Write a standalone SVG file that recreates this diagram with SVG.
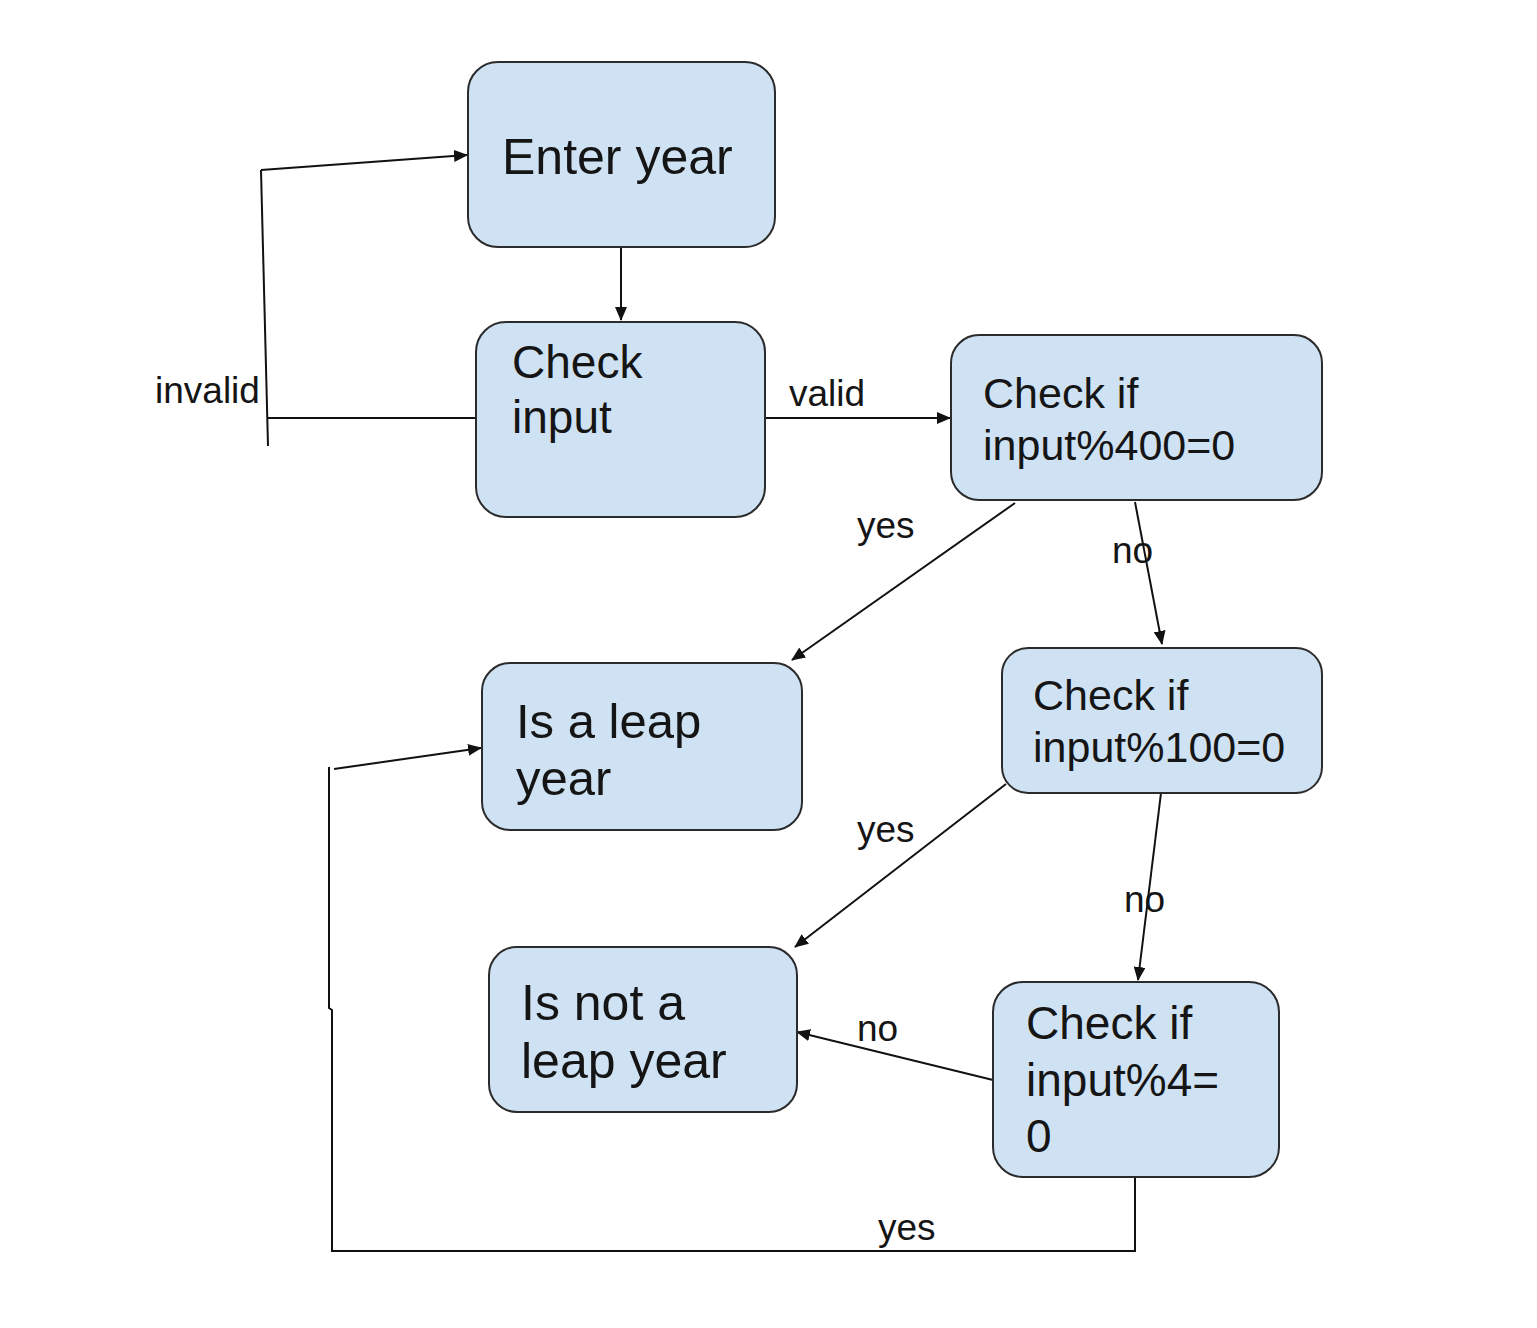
<svg xmlns="http://www.w3.org/2000/svg" width="1537" height="1328" viewBox="0 0 1537 1328">
<style>
.node{fill:#cfe2f3;stroke:#2b2b2b;stroke-width:2}
.nt{font-family:"Liberation Sans",Arial,sans-serif;fill:#151515;}
.lb{font-family:"Liberation Sans",Arial,sans-serif;fill:#151515;font-size:37px}
.c{fill:none;stroke:#111;stroke-width:2}
.a{fill:none;stroke:#111;stroke-width:2;marker-end:url(#ah)}
</style>
<defs>
<marker id="ah" markerUnits="userSpaceOnUse" markerWidth="14" markerHeight="12" viewBox="0 0 14 12" refX="13" refY="6" orient="auto">
<path d="M0,0 L14,6 L0,12 Z" fill="#111"/>
</marker>
</defs>
<rect width="1537" height="1328" fill="#fff"/>
<g id="connectors">
<line class="a" x1="621" y1="247" x2="621" y2="320"/>
<polyline class="c" points="476,418 268,418"/>
<polyline class="c" points="268,446 261,170"/>
<line class="a" x1="261" y1="170" x2="467" y2="155"/>
<line class="a" x1="765" y1="418" x2="950" y2="418"/>
<line class="a" x1="1015" y1="503" x2="792" y2="660"/>
<line class="a" x1="1135" y1="502" x2="1162" y2="644"/>
<line class="a" x1="1006" y1="784" x2="795" y2="947"/>
<line class="a" x1="1161" y1="793" x2="1138" y2="980"/>
<line class="a" x1="993" y1="1080" x2="797" y2="1032"/>
<polyline class="c" points="1135,1177 1135,1251 332,1251 332,1010 329,1008 329,767"/>
<line class="a" x1="334" y1="769" x2="481" y2="748"/>
<text class="lb" x="155" y="403">invalid</text>
<text class="lb" x="789" y="406">valid</text>
<text class="lb" x="857" y="538">yes</text>
<text class="lb" x="1112" y="563">no</text>
<text class="lb" x="857" y="842">yes</text>
<text class="lb" x="1124" y="912">no</text>
<text class="lb" x="857" y="1041">no</text>
<text class="lb" x="878" y="1240">yes</text>
</g>
<g id="n-enter">
<rect class="node" x="468" y="62" width="307" height="185" rx="30"/>
<text class="nt" font-size="50" x="502" y="174">Enter year</text>
</g>
<g id="n-checkinput">
<rect class="node" x="476" y="322" width="289" height="195" rx="30"/>
<text class="nt" font-size="46" x="512" y="378">Check</text>
<text class="nt" font-size="46" x="512" y="433">input</text>
</g>
<g id="n-400">
<rect class="node" x="951" y="335" width="371" height="165" rx="28"/>
<text class="nt" font-size="43" x="983" y="408">Check if</text>
<text class="nt" font-size="43" x="983" y="460">input%400=0</text>
</g>
<g id="n-leap">
<rect class="node" x="482" y="663" width="320" height="167" rx="28"/>
<text class="nt" font-size="49" x="516" y="738">Is a leap</text>
<text class="nt" font-size="49" x="516" y="795">year</text>
</g>
<g id="n-100">
<rect class="node" x="1002" y="648" width="320" height="145" rx="26"/>
<text class="nt" font-size="43" x="1033" y="710">Check if</text>
<text class="nt" font-size="43" x="1033" y="762">input%100=0</text>
</g>
<g id="n-notleap">
<rect class="node" x="489" y="947" width="308" height="165" rx="28"/>
<text class="nt" font-size="50" x="521" y="1020">Is not a</text>
<text class="nt" font-size="50" x="521" y="1078">leap year</text>
</g>
<g id="n-4">
<rect class="node" x="993" y="982" width="286" height="195" rx="30"/>
<text class="nt" font-size="46" x="1026" y="1039">Check if</text>
<text class="nt" font-size="46" x="1026" y="1096">input%4=</text>
<text class="nt" font-size="46" x="1026" y="1152">0</text>
</g>
</svg>
